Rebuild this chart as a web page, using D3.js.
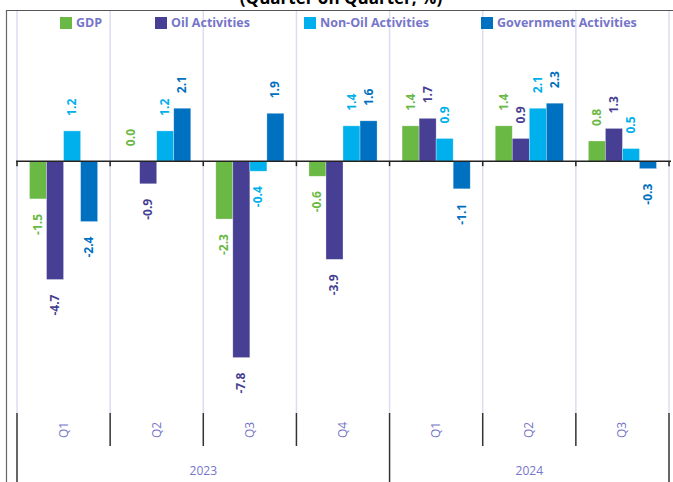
<!DOCTYPE html>
<html>
<head>
<meta charset="utf-8">
<script src="https://cdn.jsdelivr.net/npm/d3@7"></script>
<style>
  html, body { margin: 0; padding: 0; background: #fff; }
  #chart { width: 673px; height: 482px; overflow: hidden; }
  text { font-family: "Open Sans", "Noto Sans", sans-serif; }
</style>
</head>
<body>
<div id="chart"></div>
<script>
// chart data
const quarters = ['Q1', 'Q2', 'Q3', 'Q4', 'Q1', 'Q2', 'Q3'];
const years = ['2023', '2023', '2023', '2023', '2024', '2024', '2024'];
const seriesNames = ['GDP', 'Oil Activities', 'Non-Oil Activities', 'Government Activities'];
const seriesColors = ['#6ab945', '#473f93', '#00b0ec', '#0070c0'];

const gdp = [-1.5, 0.0, -2.3, -0.6, 1.4, 1.4, 0.8];
const oil = [-4.7, -0.9, -7.8, -3.9, 1.7, 0.9, 1.3];
const nonOil = [1.2, 1.2, -0.4, 1.4, 0.9, 2.1, 0.5];
const gov = [-2.4, 2.1, 1.9, 1.6, -1.1, 2.3, -0.3];

const seriesValues = [gdp, oil, nonOil, gov];

const width = 673;
const height = 482;
const plotTop = 10;
const plotBottom = 413;
const plotLeft = 17;
const plotRight = 669;

const svg = d3.select('#chart').append('svg')
  .attr('width', width)
  .attr('height', height);

const keys = quarters.map((q, i) => years[i] + '-' + q);

const x = d3.scaleBand().domain(keys).range([plotLeft, plotRight]).padding(0);
const xInner = d3.scaleBand().domain(seriesNames)
  .range([12.5, x.bandwidth() - 12.5]).padding(0);
const y = d3.scaleLinear().domain([-10, 6]).range([plotBottom, plotTop]);

// title (cut by the top edge, as in the source)
svg.append('text')
  .attr('x', 341).attr('y', 4)
  .attr('text-anchor', 'middle')
  .attr('font-size', 17).attr('font-weight', 700)
  .attr('fill', '#000')
  .text('(Quarter on Quarter, %)');

// frame
svg.append('line').attr('x1', 6.5).attr('x2', width).attr('y1', 10.5).attr('y2', 10.5)
  .attr('stroke', '#555').attr('stroke-width', 1.2);
svg.append('line').attr('x1', 6.5).attr('x2', 6.5).attr('y1', 10).attr('y2', height)
  .attr('stroke', '#666').attr('stroke-width', 1.2);

// vertical gridlines at category boundaries
const bounds = keys.map(k => x(k)).concat([plotRight]);
svg.append('g').selectAll('line').data(bounds).enter().append('line')
  .attr('x1', d => d).attr('x2', d => d)
  .attr('y1', plotTop + 1).attr('y2', plotBottom)
  .attr('stroke', '#dcdcf2').attr('stroke-width', 1.5);

// bars
const rows = keys.map((k, i) => ({key: k, values: seriesNames.map((s, j) => ({series: s, idx: j, value: seriesValues[j][i]}))}));

const groups = svg.append('g').selectAll('g').data(rows).enter().append('g')
  .attr('transform', d => `translate(${x(d.key)},0)`);

groups.selectAll('rect').data(d => d.values).enter().append('rect')
  .attr('x', d => xInner(d.series))
  .attr('width', xInner.bandwidth())
  .attr('y', d => y(Math.max(0, d.value)))
  .attr('height', d => Math.abs(y(d.value) - y(0)))
  .attr('fill', d => seriesColors[d.idx])
  .attr('stroke', '#ffffff').attr('stroke-opacity', 0.5).attr('stroke-width', 0.6);

// value labels (rotated), plain hyphen for negatives
groups.selectAll('text').data(d => d.values).enter().append('text')
  .attr('transform', d => {
    const cx = xInner(d.series) + xInner.bandwidth() / 2 + 4;
    const yy = d.value >= 0 ? y(d.value) - 15 : y(d.value) + 15;
    return `translate(${cx},${yy}) rotate(-90)`;
  })
  .attr('text-anchor', d => d.value >= 0 ? 'start' : 'end')
  .attr('font-size', 12).attr('font-weight', 700)
  .attr('fill', d => seriesColors[d.idx])
  .text(d => d.value.toFixed(1));

// zero line with ticks
svg.append('line').attr('x1', plotLeft - 1).attr('x2', 671)
  .attr('y1', y(0)).attr('y2', y(0))
  .attr('stroke', '#222').attr('stroke-width', 1.5);
svg.append('g').selectAll('line').data(bounds).enter().append('line')
  .attr('x1', d => d).attr('x2', d => d)
  .attr('y1', y(0)).attr('y2', y(0) + 5)
  .attr('stroke', '#222').attr('stroke-width', 1.5);

// category axis (multi-level)
const axisColor = '#333';
svg.append('g').selectAll('line').data(bounds).enter().append('line')
  .attr('x1', d => d).attr('x2', d => d)
  .attr('y1', plotBottom).attr('y2', (d, i) => (i === 0 || i === 4 || i === 7) ? height : 446)
  .attr('stroke', axisColor).attr('stroke-width', 1.5);

svg.append('g').selectAll('text').data(keys).enter().append('text')
  .attr('transform', (d, i) => `translate(${x(d) + x.bandwidth() / 2 + 4},430) rotate(-90)`)
  .attr('text-anchor', 'middle')
  .attr('font-size', 12)
  .attr('fill', '#7575c9')
  .text((d, i) => quarters[i]);

const yearList = Array.from(new Set(years));
svg.append('g').selectAll('text').data(yearList).enter().append('text')
  .attr('x', yr => {
    const idx = years.map((v, i) => v === yr ? i : -1).filter(i => i >= 0);
    const x0 = x(keys[idx[0]]);
    const x1 = x(keys[idx[idx.length - 1]]) + x.bandwidth();
    return (x0 + x1) / 2;
  })
  .attr('y', 475)
  .attr('text-anchor', 'middle')
  .attr('font-size', 12)
  .attr('fill', '#7575c9')
  .text(d => d);

// legend
const legendX = [60, 155, 304, 481];
const legend = svg.append('g').selectAll('g').data(seriesNames).enter().append('g')
  .attr('transform', (d, i) => `translate(${legendX[i]},17)`);
legend.append('rect').attr('width', 12).attr('height', 12)
  .attr('fill', (d, i) => seriesColors[i]);
legend.append('text').attr('x', 16).attr('y', 9.5)
  .attr('font-size', 12.5).attr('font-weight', 700)
  .attr('fill', '#7575c9')
  .text(d => d);
</script>
</body>
</html>
